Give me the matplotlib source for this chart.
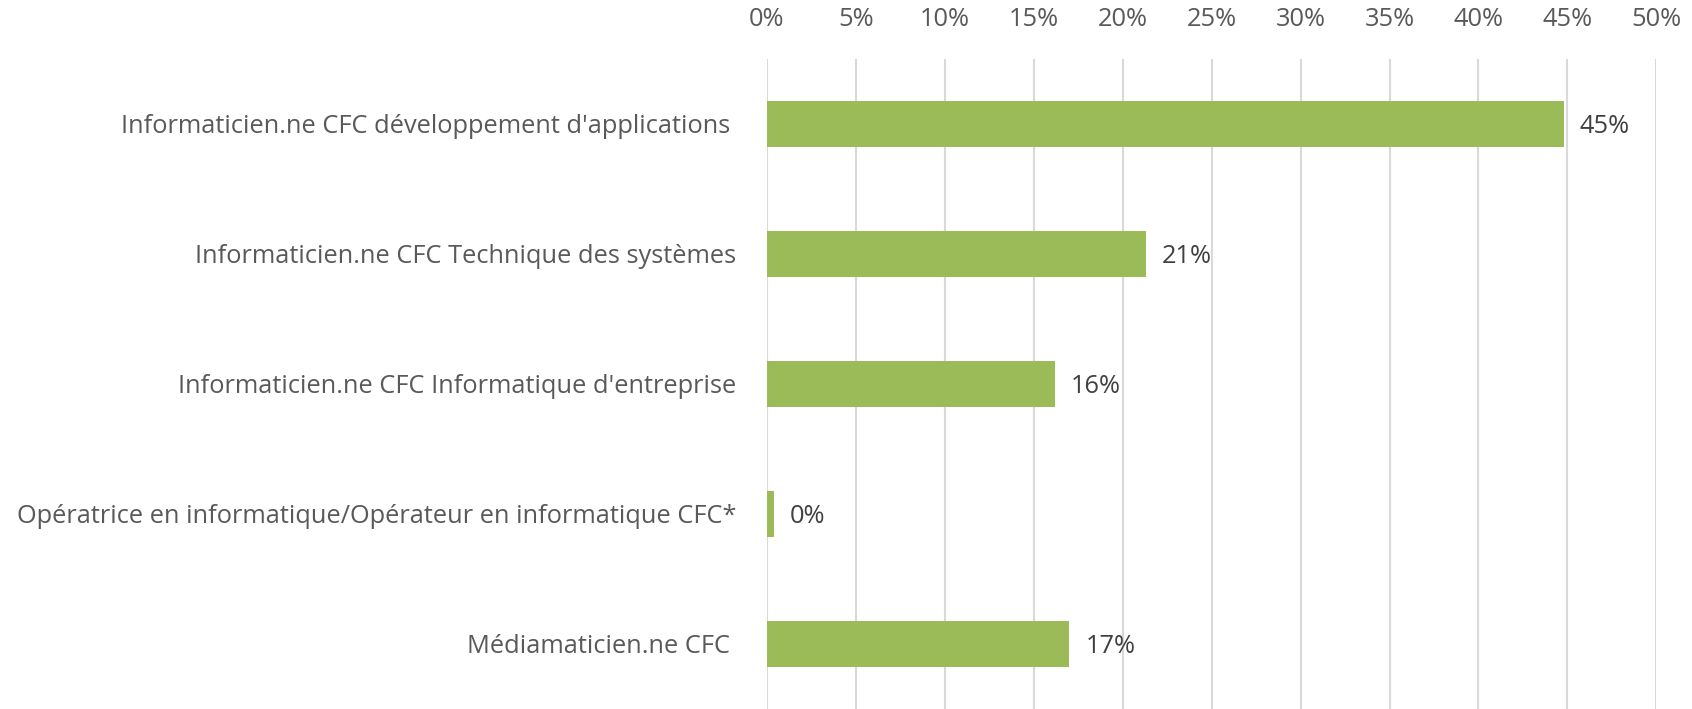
import numpy as np
import matplotlib.pyplot as plt

plt.rcParams['font.family'] = ['Open Sans', 'DejaVu Sans']

categories = ["Informaticien.ne CFC développement d'applications ",
              "Informaticien.ne CFC Technique des systèmes",
              "Informaticien.ne CFC Informatique d'entreprise",
              "Opératrice en informatique/Opérateur en informatique CFC*",
              "Médiamaticien.ne CFC "]
values = [44.8, 21.3, 16.2, 0.4, 17.0]
labels = ["45%", "21%", "16%", "0%", "17%"]
ticks = [0, 5, 10, 15, 20, 25, 30, 35, 40, 45, 50]

fig = plt.figure(figsize=(16.92, 7.09), dpi=100)
ax = fig.add_axes([0.4533, 0.0, 0.5256, 0.917])

y = np.arange(len(categories))
ax.barh(y, values, height=0.35, color="#9BBB59", zorder=3)
for yi, v, lab in zip(y, values, labels):
    ax.text(v + 0.9, yi + 0.02, lab, va="center", ha="left", fontsize=18.3, color="#404040")

ax.set_xlim(0, 50)
ax.set_ylim(len(categories) - 0.5, -0.5)
ax.set_xticks(ticks)
ax.set_xticklabels([f"{t}%" for t in ticks])
ax.xaxis.tick_top()
ax.tick_params(axis="x", length=0, pad=19, labelsize=18.3, labelcolor="#595959")
ax.set_yticks(y)
ax.set_yticklabels(categories)
ax.tick_params(axis="y", length=0, pad=22, labelsize=18.3, labelcolor="#595959")
ax.grid(axis="x", color="#d9d9d9", linewidth=1.5, zorder=0)
for s in ax.spines.values():
    s.set_visible(False)

fig.savefig("out.png", dpi=100)
